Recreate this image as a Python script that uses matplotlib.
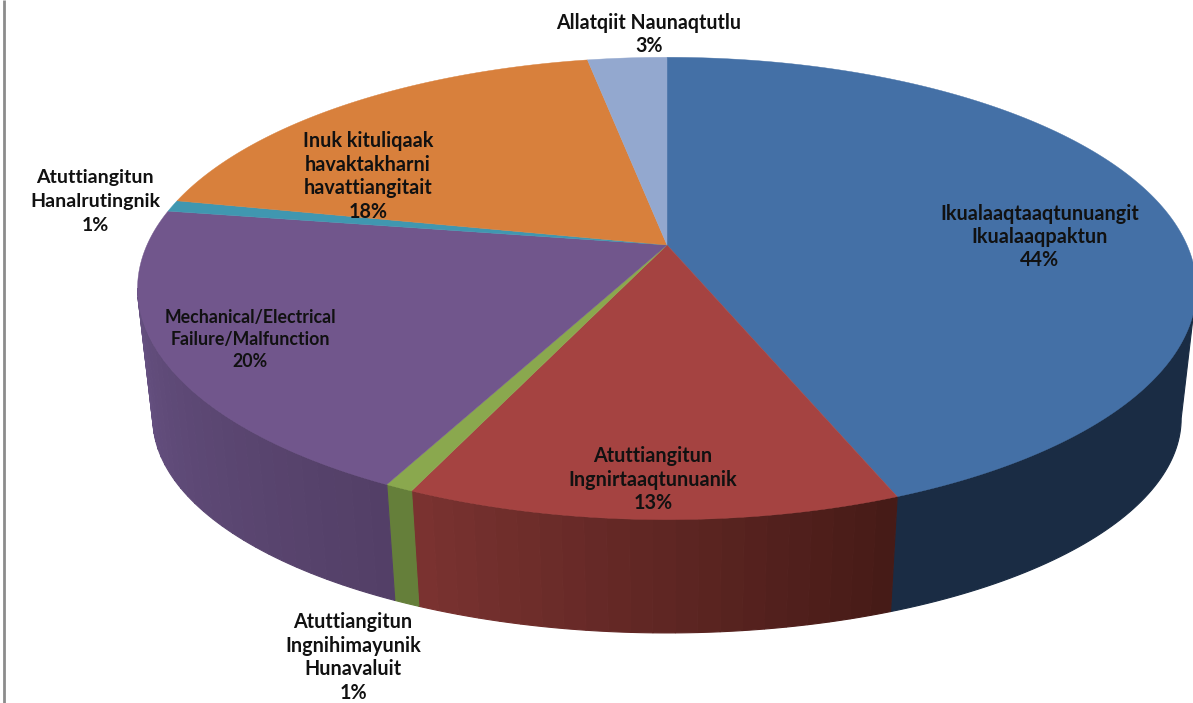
import numpy as np
import matplotlib
matplotlib.use("Agg")
import matplotlib.pyplot as plt
from matplotlib.colors import to_rgb

# --- data -----------------------------------------------------------------
categories = ["Ikualaaqtaaqtunuangit\nIkualaaqpaktun",
              "Atuttiangitun\nIngnirtaaqtunuanik",
              "Atuttiangitun\nIngnihimayunik\nHunavaluit",
              "Mechanical/Electrical\nFailure/Malfunction",
              "Atuttiangitun\nHanalrutingnik",
              "Inuk kituliqaak\nhavaktakharni\nhavattiangitait",
              "Allatqiit Naunaqtutlu"]
values = [44.05, 12.62, 0.73, 20.10, 0.80, 18.80, 2.90]
percent_labels = ["44%", "13%", "1%", "20%", "1%", "18%", "3%"]

# --- style ----------------------------------------------------------------
top_colors = ["#4470a6", "#a54341", "#8aa84e", "#71568c", "#4097b0", "#d8803c", "#93a8cf"]
side_start = ["#1a2c44", "#451a16", "#657f3a", "#533f66", "#3a7f92", "#a8602c", "#7c8eb0"]
side_end = ["#1a2c44", "#7b3331", "#657f3a", "#655080", "#3a7f92", "#a8602c", "#7c8eb0"]
label_x = [1040, 653, 353, 250, 95, 368, 649]
label_base = [220, 462, 628, 323, 183, 147, 29]
label_pitch = [23, 23.5, 23.7, 22, 24, 23.7, 23]
label_size = [14.2, 14.2, 14.2, 12.8, 14, 14.2, 14.1]

W, H = 1193, 703
APEX_X, APEX_Y = 667, 245
A_TOP, B_TOP = 520, 223
A_BOT, B_BOT, Y_BOT = 505, 207, 378
P = 0.188


def project(theta, a, b, cy):
    u, v = np.sin(theta), np.cos(theta)
    w = 1 + P * v
    return APEX_X + a * u / w, cy - b * v / w


def mix(c0, c1, t):
    c0, c1 = np.array(to_rgb(c0)), np.array(to_rgb(c1))
    return tuple(c0 + (c1 - c0) * t)


fig = plt.figure(figsize=(W / 100, H / 100), dpi=100)
ax = fig.add_axes([0, 0, 1, 1])
ax.set_xlim(0, W)
ax.set_ylim(H, 0)
ax.axis("off")

fractions = np.array(values) / sum(values)
edges = 2 * np.pi * np.concatenate([[0], np.cumsum(fractions)])

# visible rim lies between the left and right extremes of the perspective ellipse
rim_lo = np.pi - np.arccos(P)
rim_hi = np.pi + np.arccos(P)

for i in range(len(values)):
    lo, hi = max(edges[i], rim_lo), min(edges[i + 1], rim_hi)
    if hi <= lo:
        continue
    n = 1 if side_start[i] == side_end[i] else max(2, int((hi - lo) / np.radians(2.0)))
    steps = np.linspace(lo, hi, n + 1)
    for j in range(n):
        t = np.linspace(steps[j], steps[j + 1], 60)
        xt, yt = project(t, A_TOP, B_TOP, APEX_Y)
        xb, yb = project(t[::-1], A_BOT, B_BOT, Y_BOT)
        c = mix(side_start[i], side_end[i], (j + 0.5) / n)
        ax.fill(np.r_[xt, xb], np.r_[yt, yb], color=c, lw=0.8, zorder=2)

for i in range(len(values)):
    t = np.linspace(edges[i], edges[i + 1], 200)
    x, y = project(t, A_TOP, B_TOP, APEX_Y)
    ax.fill(np.r_[APEX_X, x], np.r_[APEX_Y, y], color=top_colors[i], lw=0.3, zorder=3)

for name, pct, lx, base, pitch, size in zip(categories, percent_labels, label_x,
                                            label_base, label_pitch, label_size):
    for k, line in enumerate(name.split("\n") + [pct]):
        ax.text(lx, base + k * pitch, line, ha="center", va="baseline",
                family="Lato", weight="bold", fontsize=size, color="#111111", zorder=5)

# frame of the original screenshot
ax.plot([4, 4], [0, H], color="#8c8c8c", lw=2, zorder=6, solid_capstyle="butt")

fig.savefig("out.png", dpi=100)
